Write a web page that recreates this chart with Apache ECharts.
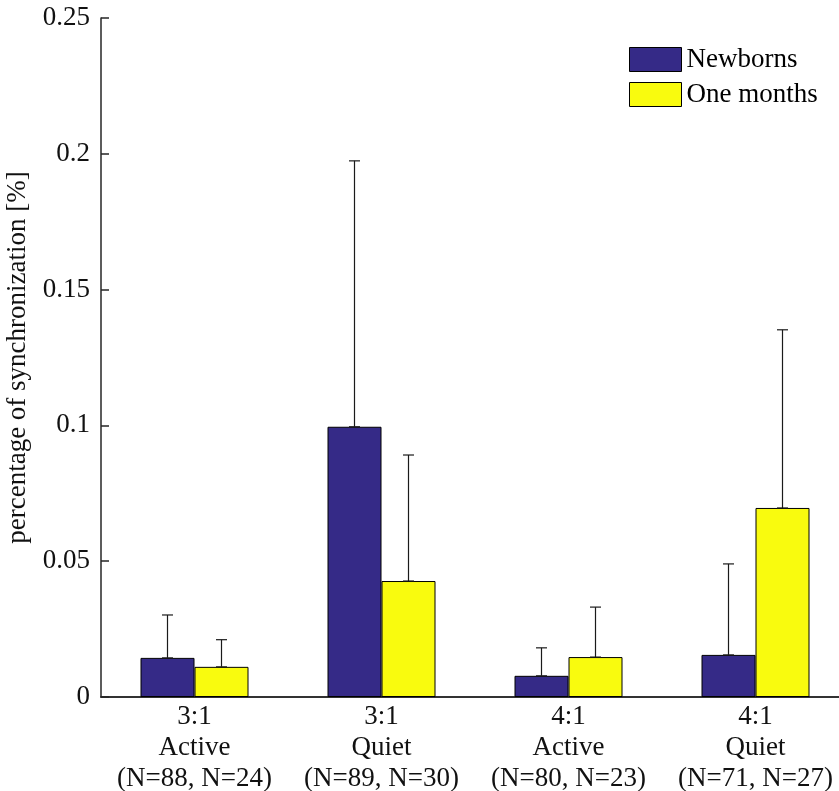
<!DOCTYPE html>
<html>
<head>
<meta charset="utf-8">
<script src="https://cdn.jsdelivr.net/npm/echarts@6/dist/echarts.min.js"></script>
<style>
  html, body { margin: 0; padding: 0; background: #fff; }
  #chart { width: 839px; height: 791px; }
</style>
</head>
<body>
<div id="chart"></div>
<script>
// Group labels (ratio / sleep state / sample sizes)
const categories = [
  '3:1\nActive\n(N=88, N=24)',
  '3:1\nQuiet\n(N=89, N=30)',
  '4:1\nActive\n(N=80, N=23)',
  '4:1\nQuiet\n(N=71, N=27)'
];
const seriesNames = ['Newborns', 'One months'];

// Mean percentage of synchronization
const newbornMean = [0.0144, 0.0995, 0.0078, 0.0155];
const oneMonthMean = [0.0111, 0.0427, 0.0147, 0.0696];

// Upper end of the error bar (mean + SD)
const newbornUpper = [0.0302, 0.1974, 0.0181, 0.0490];
const oneMonthUpper = [0.0211, 0.0891, 0.0331, 0.1352];

const yTicks = [0, 0.05, 0.1, 0.15, 0.2, 0.25];

const FONT = '"Liberation Serif", "Times New Roman", serif';
const AXIS_COLOR = '#262626';
const BAR_W = 54;
const CAP_HALF = 5.5;

const chart = echarts.init(document.getElementById('chart'));

function errorSeries(means, uppers, offsetSign) {
  return {
    type: 'custom',
    name: 'err' + offsetSign,
    xAxisIndex: 0,
    yAxisIndex: 0,
    silent: true,
    z: 5,
    data: means.map((m, i) => [i, m, uppers[i]]),
    renderItem: function (params, api) {
      const i = api.value(0);
      const base = api.coord([i, api.value(1)]);
      const top = api.coord([i, api.value(2)]);
      const x = base[0] + offsetSign * BAR_W / 2;
      const style = { stroke: '#1a1a1a', lineWidth: 1.2, fill: null };
      return {
        type: 'group',
        children: [
          { type: 'line', shape: { x1: x, y1: base[1], x2: x, y2: top[1] }, style: style },
          { type: 'line', shape: { x1: x - CAP_HALF, y1: top[1], x2: x + CAP_HALF, y2: top[1] }, style: style },
          { type: 'line', shape: { x1: x - CAP_HALF, y1: base[1], x2: x + CAP_HALF, y2: base[1] }, style: style }
        ]
      };
    }
  };
}

const option = {
  backgroundColor: '#fff',
  animation: false,
  textStyle: { fontFamily: FONT },
  grid: { left: 101, top: 18, right: -10, bottom: 94, containLabel: false, outerBoundsMode: 'none' },
  legend: {
    data: seriesNames,
    orient: 'vertical',
    left: 629,
    top: 46,
    itemWidth: 52,
    itemHeight: 24,
    itemGap: 8,
    icon: 'rect',
    itemStyle: { borderColor: '#000', borderWidth: 1 },
    textStyle: { fontFamily: FONT, fontSize: 27, color: '#000', padding: [0, 0, 0, 0] },
    padding: 0
  },
  xAxis: [
    {
      type: 'category',
      data: categories,
      position: 'bottom',
      boundaryGap: true,
      axisLine: { lineStyle: { color: AXIS_COLOR, width: 1.5 } },
      axisTick: { inside: true, alignWithLabel: true, length: 7, lineStyle: { color: AXIS_COLOR, width: 1.5 } },
      axisLabel: { fontFamily: FONT, fontSize: 27, lineHeight: 31, color: '#111', margin: 4, interval: 0 },
      splitLine: { show: false }
    },
    {
      type: 'category',
      data: categories,
      position: 'top',
      boundaryGap: true,
      axisLine: { lineStyle: { color: AXIS_COLOR, width: 1.5 } },
      axisTick: { inside: true, alignWithLabel: true, length: 7, lineStyle: { color: AXIS_COLOR, width: 1.5 } },
      axisLabel: { show: false },
      splitLine: { show: false }
    }
  ],
  yAxis: [
    {
      type: 'value',
      min: yTicks[0],
      max: yTicks[yTicks.length - 1],
      interval: yTicks[1] - yTicks[0],
      name: 'percentage of synchronization [%]',
      nameLocation: 'middle',
      nameGap: 64,
      nameTextStyle: { fontFamily: FONT, fontSize: 27, color: '#111' },
      axisLine: { show: true, lineStyle: { color: AXIS_COLOR, width: 1.5 } },
      axisTick: { show: true, inside: true, length: 8, lineStyle: { color: AXIS_COLOR, width: 1.5 } },
      axisLabel: { fontFamily: FONT, fontSize: 27, color: '#111', margin: 11 },
      splitLine: { show: false }
    },
    {
      type: 'value',
      position: 'right',
      min: yTicks[0],
      max: yTicks[yTicks.length - 1],
      interval: yTicks[1] - yTicks[0],
      axisLine: { show: true, lineStyle: { color: AXIS_COLOR, width: 1.5 } },
      axisTick: { show: true, inside: true, length: 8, lineStyle: { color: AXIS_COLOR, width: 1.5 } },
      axisLabel: { show: false },
      splitLine: { show: false }
    }
  ],
  series: [
    {
      name: seriesNames[0],
      type: 'bar',
      data: newbornMean,
      barWidth: BAR_W,
      barGap: '0%',
      itemStyle: { color: '#352A87', borderColor: '#000', borderWidth: 1 }
    },
    {
      name: seriesNames[1],
      type: 'bar',
      data: oneMonthMean,
      barWidth: BAR_W,
      barGap: '0%',
      itemStyle: { color: '#F9FB0E', borderColor: '#000', borderWidth: 1 }
    },
    errorSeries(newbornMean, newbornUpper, -1),
    errorSeries(oneMonthMean, oneMonthUpper, 1)
  ]
};

chart.setOption(option);
</script>
</body>
</html>
